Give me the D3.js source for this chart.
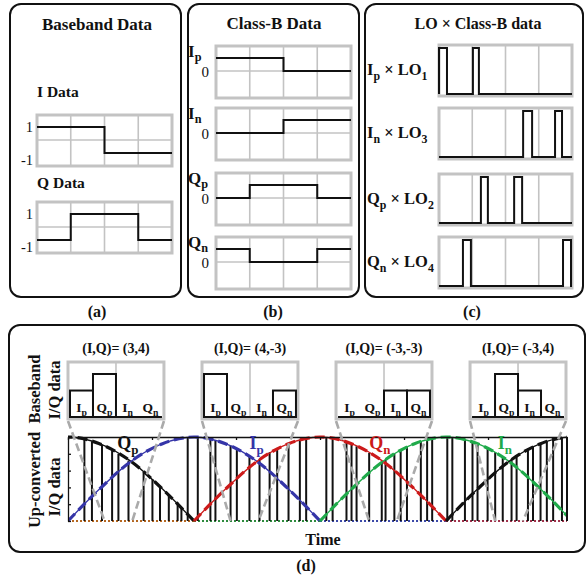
<!DOCTYPE html>
<html>
<head>
<meta charset="utf-8">
<script src="https://cdn.jsdelivr.net/npm/d3@7"></script>
<style>
  body { margin: 0; background: #fff; }
  svg { display: block; }
  text { font-family: "Liberation Serif", "Times New Roman", serif; font-weight: bold; fill: #111; }
  .reg { font-weight: normal; }
</style>
</head>
<body>
<svg id="fig" width="586" height="582"></svg>
<script>
// ---------- data ----------
var slots = [0, 1, 2, 3];

// (a) baseband data, one value per slot
var iData = [1, 1, -1, -1];
var qData = [-1, 1, 1, -1];

// (b) class-B data
var classBNames = [[["I", 0], ["p", 1]], [["I", 0], ["n", 1]], [["Q", 0], ["p", 1]], [["Q", 0], ["n", 1]]];
var ipData = [1, 1, 0, 0];
var inData = [0, 0, 1, 1];
var qpData = [0, 1, 1, 0];
var qnData = [1, 0, 0, 1];

// (c) LO x class-B, pulses as [start, end] in slot units
var loNames = [
  [["I", 0], ["p", 1], [" \u00d7 LO", 0], ["1", 1]],
  [["I", 0], ["n", 1], [" \u00d7 LO", 0], ["3", 1]],
  [["Q", 0], ["p", 1], [" \u00d7 LO", 0], ["2", 1]],
  [["Q", 0], ["n", 1], [" \u00d7 LO", 0], ["4", 1]]
];
var ipLo1 = [[0, 0.24], [1.02, 1.2]];
var inLo3 = [[2.53, 2.8], [3.49, 3.7]];
var qpLo2 = [[1.26, 1.47], [2.26, 2.5]];
var qnLo4 = [[0.72, 0.96], [3.73, 3.97]];

// (d) symbols, bars in order Ip, Qp, In, Qn
var symbolLabels = ["(I,Q)= (3,4)", "(I,Q)= (4,-3)", "(I,Q)= (-3,-3)", "(I,Q)= (-3,4)"];
var barNames = [[["I", 0], ["p", 1]], [["Q", 0], ["p", 1]], [["I", 0], ["n", 1]], [["Q", 0], ["n", 1]]];
var barValues = [[3, 4, 0, 0], [4, 0, 0, 3], [0, 0, 3, 3], [0, 4, 3, 0]];
var windowT = [0.4, 1.4, 2.5, 3.5];

// up-converted data: half-period arcs
var arcT = [0, 0.25, 0.5, 0.75, 1, 1.25, 1.5, 1.75, 2];
var arcLevel = [0, 0.38, 0.71, 0.92, 1, 0.92, 0.71, 0.38, 0];
var arcNames = ["Qp", "Ip", "Qn", "In", "Qp"];
var arcStarts = [-1, 0, 1, 2, 3];

// RF pulses (time, level)
var pulseT = [0, 0.13, 0.19, 0.27, 0.35, 0.40, 0.48, 0.60, 0.67, 0.73, 0.80, 0.87, 0.90,
  0.95, 1.03, 1.13, 1.17, 1.29, 1.34, 1.44, 1.52, 1.60, 1.66, 1.75, 1.84, 1.89,
  2.05, 2.10, 2.21, 2.25, 2.29, 2.39, 2.49, 2.52, 2.59, 2.64, 2.69, 2.80, 2.85, 2.89,
  3.01, 3.05, 3.15, 3.21, 3.25, 3.33, 3.39, 3.45, 3.52, 3.56, 3.65, 3.69, 3.75, 3.80, 3.85, 3.92];
var pulseLevel = [1.0, 0.98, 0.95, 0.91, 0.85, 0.8, 0.72, 0.58, 0.5, 0.42, 0.32, 0.22, 0.16,
  1.0, 1.0, 0.98, 0.96, 0.9, 0.86, 0.77, 0.74, 0.82, 0.87, 0.93, 0.97, 0.99,
  1.0, 0.99, 0.94, 0.92, 0.89, 0.81, 0.71, 0.73, 0.8, 0.85, 0.88, 0.95, 0.97, 0.98,
  1.0, 1.0, 0.97, 0.95, 0.93, 0.87, 0.82, 0.76, 0.74, 0.78, 0.86, 0.89, 0.93, 0.95, 0.97, 0.99];
var curveLabels = [[["Q", 0], ["p", 1]], [["I", 0], ["p", 1]], [["Q", 0], ["n", 1]], [["I", 0], ["n", 1]]];
var curveLabelT = [0.39, 1.44, 2.39, 3.41];
var tEnd = 3.96;

// ---------- styles ----------
var gridGrey = "#c3c3c3";
var arcColor = { Qp: "#111111", Ip: "#3535a8", Qn: "#cc1a1a", In: "#1faa4a" };
var curveLabelColor = ["#111111", "#3535a8", "#cc1a1a", "#1faa4a"];
var baseColor = ["#b5661f", "#2e8b3e", "#3a48a8", "#a0304a"];

var svg = d3.select("#fig");

// text with subscripts: parts = [[string, isSub], ...]
function rich(g, x, y, parts, size, anchor, shift) {
  var sh = shift === undefined ? 0.28 : shift;
  var t = g.append("text").attr("x", x).attr("y", y)
    .attr("font-size", size).attr("text-anchor", anchor || "start");
  var down = false;
  parts.forEach(function (p) {
    var ts = t.append("tspan").text(p[0]);
    if (p[1]) {
      ts.attr("font-size", size * 0.72).attr("dy", down ? 0 : size * sh);
      down = true;
    } else {
      ts.attr("dy", down ? -size * sh : 0);
      down = false;
    }
  });
  return t;
}

function panel(x0, y0, x1, y1) {
  svg.append("rect").attr("x", x0).attr("y", y0)
    .attr("width", x1 - x0).attr("height", y1 - y0)
    .attr("rx", 11).attr("fill", "none").attr("stroke", "#111").attr("stroke-width", 2);
}

// grey framed box with vertical grid at 1,2,3 and optional horizontal line
function gridBox(g, x, hy) {
  var r = x.range();
  g.selectAll(null).data([1, 2, 3]).enter().append("line")
    .attr("x1", x).attr("x2", x).attr("y1", hy.top).attr("y2", hy.bot)
    .attr("stroke", gridGrey).attr("stroke-width", 1.6);
  if (hy.mid !== undefined) {
    g.append("line").attr("x1", r[0]).attr("x2", r[1]).attr("y1", hy.mid).attr("y2", hy.mid)
      .attr("stroke", gridGrey).attr("stroke-width", 1.6);
  }
  g.append("rect").attr("x", r[0]).attr("y", hy.top)
    .attr("width", r[1] - r[0]).attr("height", hy.bot - hy.top)
    .attr("fill", "none").attr("stroke", gridGrey).attr("stroke-width", 3);
}

function stepPath(g, vals, x, y) {
  var pts = vals.map(function (v, i) { return [i, v]; });
  pts.push([4, vals[3]]);
  g.append("path").datum(pts)
    .attr("d", d3.line().x(function (d) { return x(d[0]); }).y(function (d) { return y(d[1]); }).curve(d3.curveStepAfter))
    .attr("fill", "none").attr("stroke", "#111").attr("stroke-width", 2);
}

// ---------- (a) ----------
panel(10, 4, 181, 297);
svg.append("text").attr("x", 97).attr("y", 30).attr("text-anchor", "middle").attr("font-size", 17).text("Baseband Data");
[{ name: "I Data", vals: iData, top: 115, ly: 97 }, { name: "Q Data", vals: qData, top: 202, ly: 188 }].forEach(function (p) {
  var g = svg.append("g");
  g.append("text").attr("x", 37).attr("y", p.ly).attr("font-size", 15.5).text(p.name);
  var x = d3.scaleLinear().domain([0, 4]).range([37, 172]);
  var y = d3.scaleLinear().domain([-1, 1]).range([p.top + 38, p.top + 12]);
  gridBox(g, x, { top: p.top, bot: p.top + 51, mid: y(0) });
  stepPath(g, p.vals, x, y);
  [1, -1].forEach(function (v) {
    g.append("text").attr("class", "reg").attr("x", 33).attr("y", y(v) + (v < 0 ? 12 : 5))
      .attr("text-anchor", "end").attr("font-size", 14.5).text(v);
  });
});

// ---------- (b) ----------
panel(188, 4, 359, 297);
svg.append("text").attr("x", 274).attr("y", 29).attr("text-anchor", "middle").attr("font-size", 17).text("Class-B Data");
[ipData, inData, qpData, qnData].forEach(function (vals, i) {
  var top = [46, 108, 173, 237][i];
  var g = svg.append("g");
  var x = d3.scaleLinear().domain([0, 4]).range([216, 351]);
  var y = d3.scaleLinear().domain([0, 1]).range([top + 25, top + 12]);
  gridBox(g, x, { top: top, bot: top + 52, mid: y(0) });
  stepPath(g, vals, x, y);
  rich(g, 188, top + 11, classBNames[i], 17, "start", 0.22);
  g.append("text").attr("class", "reg").attr("x", 209).attr("y", y(0) + 6)
    .attr("text-anchor", "end").attr("font-size", 15).text(0);
});

// ---------- (c) ----------
panel(365, 4, 583, 297);
svg.append("text").attr("x", 478).attr("y", 29).attr("text-anchor", "middle").attr("font-size", 16).text("LO \u00d7 Class-B data");
[ipLo1, inLo3, qpLo2, qnLo4].forEach(function (pulses, i) {
  var top = [45, 108, 174, 237][i];
  var g = svg.append("g");
  var x = d3.scaleLinear().domain([0, 4]).range([439, 572]);
  var y = d3.scaleLinear().domain([0, 1]).range([top + 49, top + 3]);
  gridBox(g, x, { top: top, bot: top + 51 });
  var pts = [[0, 0]];
  pulses.forEach(function (p) { pts.push([p[0], 1], [p[1], 0]); });
  pts.push([4, 0]);
  g.append("path").datum(pts)
    .attr("d", d3.line().x(function (d) { return x(d[0]); }).y(function (d) { return y(d[1]); }).curve(d3.curveStepAfter))
    .attr("fill", "none").attr("stroke", "#111").attr("stroke-width", 2);
  rich(g, 367, top + 30, loNames[i], 16.5);
});

// panel letters
[["(a)", 97], ["(b)", 273], ["(c)", 472]].forEach(function (l) {
  svg.append("text").attr("x", l[1]).attr("y", 317).attr("text-anchor", "middle").attr("font-size", 16).text(l[0]);
});

// ---------- (d) ----------
panel(9, 325, 585, 552);
svg.append("text").attr("x", 306).attr("y", 571).attr("text-anchor", "middle").attr("font-size", 16).text("(d)");

function vlabel(x, y, s) {
  svg.append("text").attr("transform", "translate(" + x + "," + y + ") rotate(-90)")
    .attr("text-anchor", "middle").attr("font-size", 16.5).text(s);
}
vlabel(40, 389, "Baseband");
vlabel(60, 390, "I/Q data");
vlabel(40, 480, "Up-converted");
vlabel(60, 487, "I/Q data");

var xT = d3.scaleLinear().domain([0, tEnd]).range([68, 567]);
var yA = d3.scaleLinear().domain([0, 1]).range([521, 437]);

// inset bar chart geometry
var boxX = d3.scaleBand().domain(slots).range([68, 566]).paddingInner(0.284);
var barTop = 362, barBase = 417;
var barY = d3.scaleLinear().domain([1.4, 4]).range([barBase, barBase - 43]);

var chart = svg.append("g");
svg.append("clipPath").attr("id", "plotclip").append("rect")
  .attr("x", xT(0)).attr("y", 430).attr("width", xT(tEnd) - xT(0)).attr("height", 95);
var plot = chart.append("g").attr("clip-path", "url(#plotclip)");

// dotted coloured baseline per slot
slots.forEach(function (s) {
  plot.append("line").attr("x1", xT(s)).attr("x2", xT(s + 1)).attr("y1", yA(0)).attr("y2", yA(0))
    .attr("stroke", baseColor[s]).attr("stroke-width", 2).attr("stroke-dasharray", "2,2");
});

// RF pulses
plot.selectAll(".pulse").data(pulseT).enter().append("line").attr("class", "pulse")
  .attr("x1", function (d) { return xT(d); }).attr("x2", function (d) { return xT(d); })
  .attr("y1", yA(0)).attr("y2", function (d, i) { return yA(pulseLevel[i]); })
  .attr("stroke", "#111").attr("stroke-width", 2);

// frame: top and left axes with inward ticks, right edge
chart.append("g").attr("transform", "translate(0," + yA(1) + ")")
  .call(d3.axisBottom(xT).tickValues([0, 2 / 3, 4 / 3, 2, 8 / 3, 10 / 3]).tickSize(3).tickSizeOuter(0).tickFormat(""))
  .call(function (g) { g.selectAll("path,line").attr("stroke", "#111").attr("stroke-width", 1.3); });
chart.append("g").attr("transform", "translate(" + xT(0) + ",0)")
  .call(d3.axisRight(yA).ticks(5).tickSize(3).tickSizeOuter(0).tickFormat(""))
  .call(function (g) { g.selectAll("path,line").attr("stroke", "#111").attr("stroke-width", 1.3); });
chart.append("line").attr("x1", xT(tEnd)).attr("x2", xT(tEnd)).attr("y1", yA(0)).attr("y2", yA(1))
  .attr("stroke", "#111").attr("stroke-width", 2);

// zoom guides from each inset to its time window
barValues.forEach(function (vals, k) {
  var bx = boxX(k), bw = boxX.bandwidth();
  [[bx, windowT[k] - 0.11], [bx + bw, windowT[k] + 0.11]].forEach(function (p) {
    chart.append("line").attr("x1", p[0]).attr("y1", barBase + 4).attr("x2", xT(p[1])).attr("y2", yA(0))
      .attr("stroke", "#aaaaaa").attr("stroke-width", 2.6).attr("stroke-dasharray", "8,4");
  });
});

// envelopes
var arcLine = d3.line().x(function (d) { return xT(d[0]); }).y(function (d) { return yA(d[1]); }).curve(d3.curveMonotoneX);
arcStarts.forEach(function (s, k) {
  var pts = arcT.map(function (t, i) { return [s + t, arcLevel[i]]; });
  var c = arcColor[arcNames[k]];
  plot.append("path").datum(pts).attr("d", arcLine).attr("fill", "none").attr("stroke", c).attr("stroke-width", 1.3);
  plot.append("path").datum(pts).attr("d", arcLine).attr("fill", "none").attr("stroke", c)
    .attr("stroke-width", 3.2).attr("stroke-dasharray", "10,5");
});
curveLabels.forEach(function (parts, k) {
  rich(chart, xT(curveLabelT[k]), 449, parts, 18).selectAll("tspan").attr("fill", curveLabelColor[k]);
});

// inset boxes
barValues.forEach(function (vals, k) {
  var bx = boxX(k), bw = boxX.bandwidth();
  var g = chart.append("g");
  var sx = d3.scaleBand().domain(slots).range([bx + 2, bx + bw - 2]);
  g.append("line").attr("x1", bx + bw / 2).attr("x2", bx + bw / 2).attr("y1", barTop).attr("y2", barBase)
    .attr("stroke", gridGrey).attr("stroke-width", 1.6);
  g.append("rect").attr("x", bx).attr("y", barTop).attr("width", bw).attr("height", barBase + 2 - barTop)
    .attr("fill", "none").attr("stroke", gridGrey).attr("stroke-width", 3);
  g.append("line").attr("x1", bx + 2).attr("x2", bx + bw - 2).attr("y1", barBase).attr("y2", barBase)
    .attr("stroke", "#111").attr("stroke-width", 2);
  vals.forEach(function (v, i) {
    if (v > 0) {
      g.append("rect").attr("x", sx(i)).attr("y", barY(v))
        .attr("width", sx.bandwidth()).attr("height", barBase - barY(v))
        .attr("fill", "none").attr("stroke", "#111").attr("stroke-width", 2);
    }
    rich(g, sx(i) + sx.bandwidth() / 2, 412, barNames[i], 13.5, "middle");
  });
  g.append("text").attr("x", bx + bw / 2).attr("y", 353).attr("text-anchor", "middle")
    .attr("font-size", 14).text(symbolLabels[k]);
});

svg.append("text").attr("x", 323).attr("y", 545).attr("text-anchor", "middle").attr("font-size", 16).text("Time");
</script>
</body>
</html>
